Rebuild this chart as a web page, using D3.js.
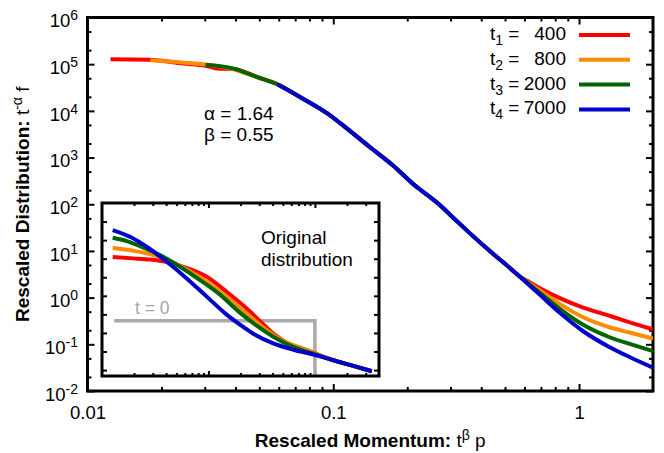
<!DOCTYPE html>
<html>
<head>
<meta charset="utf-8">
<script src="https://cdn.jsdelivr.net/npm/d3@7"></script>
<style>
  body { margin: 0; background: #fff; }
  text { font-family: "Liberation Sans", Arial, Helvetica, sans-serif; }
</style>
</head>
<body>
<svg id="chart" width="664" height="453"></svg>
<script>
// ---- Data -------------------------------------------------------------
const times = [400, 800, 2000, 7000];
const seriesColors = ["#ff0000", "#ff8c00", "#006400", "#0000cd"];

const xTickValues = [0.01, 0.1, 1];
const xTickLabels = ["0.01", "0.1", "1"];
const yTickExponents = [-2, -1, 0, 1, 2, 3, 4, 5, 6];

// Rescaled distribution t^-α f versus rescaled momentum t^β p
const mainX400 = [0.0124, 0.018, 0.0245, 0.0302, 0.0337, 0.0393, 0.0491, 0.0593, 0.0735, 0.0946, 0.107, 0.1416, 0.176, 0.212, 0.2655, 0.320, 0.361, 0.436, 0.526, 0.561, 0.634, 0.697, 0.840, 1.04, 1.34, 1.62, 2.0];
const mainY400 = [1.27e5, 1.24e5, 1.03e5, 9.3e4, 8.1e4, 7.9e4, 5.3e4, 3.72e4, 1.96e4, 8.8e3, 5.4e3, 1.64e3, 662, 267, 106, 42.4, 23.5, 9.7, 4.21, 3.13, 2.08, 1.57, 0.964, 0.611, 0.404, 0.292, 0.210];

const mainX800 = [0.018, 0.0245, 0.0302, 0.0393, 0.0491, 0.0593, 0.0735, 0.0946, 0.107, 0.1416, 0.176, 0.212, 0.2655, 0.320, 0.361, 0.436, 0.526, 0.561, 0.634, 0.697, 0.840, 1.04, 1.34, 1.62, 2.0];
const mainY800 = [1.21e5, 1.08e5, 9.8e4, 7.8e4, 5.2e4, 3.72e4, 1.96e4, 8.8e3, 5.4e3, 1.64e3, 662, 267, 106, 42.4, 23.5, 9.7, 4.21, 3.13, 1.96, 1.39, 0.718, 0.379, 0.229, 0.177, 0.133];

const mainX2000 = [0.0302, 0.0393, 0.0491, 0.0593, 0.0735, 0.0946, 0.107, 0.1416, 0.176, 0.212, 0.2655, 0.320, 0.361, 0.436, 0.526, 0.561, 0.634, 0.697, 0.840, 1.04, 1.34, 1.62, 2.0];
const mainY2000 = [9.7e4, 8.05e4, 5.3e4, 3.72e4, 1.96e4, 8.8e3, 5.4e3, 1.64e3, 662, 267, 106, 42.4, 23.5, 9.7, 4.21, 3.13, 1.87, 1.23, 0.561, 0.262, 0.140, 0.1007, 0.0713];

const mainX7000 = [0.0593, 0.0735, 0.0946, 0.107, 0.1416, 0.176, 0.212, 0.2655, 0.320, 0.361, 0.436, 0.526, 0.561, 0.634, 0.697, 0.840, 1.04, 1.34, 1.62, 2.0];
const mainY7000 = [3.66e4, 1.96e4, 8.8e3, 5.4e3, 1.64e3, 662, 267, 106, 42.4, 23.5, 9.7, 4.21, 3.13, 1.76, 1.12, 0.461, 0.1905, 0.0855, 0.0523, 0.0317];

// Original (unscaled) distribution for the inset
const insetX400 = [1.26e-3, 1.97e-3, 2.82e-3, 4.06e-3, 5.81e-3, 9.64e-3, 0.01482, 0.02285, 0.03048, 0.04064, 0.05433, 0.07244, 0.1023, 0.149, 0.2296, 0.342];
const insetY400 = [0.1222, 0.104, 0.0897, 0.0658, 0.0366, 0.0106, 1.64e-3, 2.09e-4, 4.32e-5, 9.14e-6, 2.99e-6, 1.61e-6, 7.62e-7, 3.40e-7, 1.67e-7, 8.69e-8];

const insetX800 = [1.26e-3, 1.97e-3, 2.82e-3, 4.06e-3, 6.25e-3, 9.64e-3, 0.01482, 0.02285, 0.03273, 0.04699, 0.07244, 0.1023, 0.149, 0.2296, 0.342];
const insetY800 = [0.374, 0.267, 0.1775, 0.0897, 0.0259, 5.69e-3, 8.83e-4, 1.12e-4, 1.93e-5, 4.62e-6, 1.57e-6, 7.44e-7, 3.40e-7, 1.67e-7, 8.69e-8];

const insetX2000 = [1.26e-3, 1.71e-3, 2.44e-3, 3.51e-3, 5.41e-3, 8.34e-3, 0.01283, 0.01977, 0.02838, 0.04064, 0.06266, 0.0966, 0.149, 0.2296, 0.342];
const insetY2000 = [1.34, 0.891, 0.398, 0.1567, 0.0366, 7.03e-3, 1.16e-3, 1.24e-4, 2.47e-5, 6.30e-6, 1.77e-6, 7.62e-7, 3.40e-7, 1.67e-7, 8.69e-8];

const insetX7000 = [1.26e-3, 1.83e-3, 2.63e-3, 4.06e-3, 6.25e-3, 9.64e-3, 0.01482, 0.01977, 0.02636, 0.04064, 0.06266, 0.0966, 0.149, 0.2296, 0.342];
const insetY7000 = [3.50, 1.52, 0.44, 0.0682, 8.69e-3, 9.06e-4, 9.68e-5, 2.80e-5, 9.14e-6, 2.71e-6, 1.25e-6, 6.90e-7, 3.40e-7, 1.67e-7, 8.69e-8];

// Initial (t = 0) step distribution
const initX = [1.30e-3, 0.1, 0.1];
const initY = [4.6e-5, 4.6e-5, 4.8e-8];

const mainXs = [mainX400, mainX800, mainX2000, mainX7000];
const mainYs = [mainY400, mainY800, mainY2000, mainY7000];
const insetXs = [insetX400, insetX800, insetX2000, insetX7000];
const insetYs = [insetY400, insetY800, insetY2000, insetY7000];

// ---- Layout -----------------------------------------------------------
const FONT = '"Liberation Sans", Arial, Helvetica, sans-serif';
const TEXT_SIZE = 19;
const TICK_SIZE = 18.5;
const svg = d3.select("#chart");
svg.append("rect").attr("width", 664).attr("height", 453).attr("fill", "#fff");

const M = { left: 87.5, right: 653, top: 17.5, bottom: 391 };
const x = d3.scaleLog().domain([0.01, 2]).range([M.left, M.right]);
const y = d3.scaleLog().domain([1e-2, 1e6]).range([M.bottom, M.top]);

function logMinor(lo, hi, mults) {
  const out = [];
  for (let e = Math.floor(Math.log10(lo)); e <= Math.ceil(Math.log10(hi)); e++) {
    mults.forEach(m => {
      const v = m * Math.pow(10, e);
      if (v > lo * 1.0001 && v < hi * 0.9999) out.push(v);
    });
  }
  return out;
}

function styleAxis(g) {
  g.select(".domain").remove();
  g.selectAll(".tick line").attr("stroke", "#000").attr("stroke-width", 2);
  g.attr("font-family", FONT).attr("font-size", TICK_SIZE);
  g.selectAll(".tick text").attr("fill", "#000");
}

function addAxis(axis, tx, ty) {
  const g = svg.append("g").attr("transform", `translate(${tx},${ty})`).call(axis);
  styleAxis(g);
  return g;
}

// Main axes: major and minor ticks on all four sides, pointing inward
const xMinor = logMinor(0.01, 2, [2, 3, 4, 5, 6, 7, 8, 9]);
const yMajor = yTickExponents.map(e => Math.pow(10, e));
const yMinor = logMinor(1e-2, 1e6, [2, 5]);

addAxis(d3.axisBottom(x).tickValues(xTickValues).tickSize(-7).tickPadding(14.5)
  .tickFormat((d, i) => xTickLabels[i]), 0, M.bottom);
addAxis(d3.axisBottom(x).tickValues(xMinor).tickSize(-4).tickFormat(""), 0, M.bottom);
addAxis(d3.axisTop(x).tickValues(xTickValues).tickSize(-7).tickFormat(""), 0, M.top);
addAxis(d3.axisTop(x).tickValues(xMinor).tickSize(-4).tickFormat(""), 0, M.top);

const yAxisG = addAxis(d3.axisLeft(y).tickValues(yMajor).tickSize(-7).tickPadding(9.5), M.left, 0);
addAxis(d3.axisLeft(y).tickValues(yMinor).tickSize(-4).tickFormat(""), M.left, 0);
addAxis(d3.axisRight(y).tickValues(yMajor).tickSize(-7).tickFormat(""), M.right, 0);
addAxis(d3.axisRight(y).tickValues(yMinor).tickSize(-4).tickFormat(""), M.right, 0);

// Power-of-ten labels with superscript exponents
yAxisG.selectAll(".tick text").each(function (d, i) {
  const t = d3.select(this).text(null).attr("dy", "0.5em");
  t.append("tspan").text("10");
  t.append("tspan").attr("font-size", 14).attr("dy", -7).text(String(yTickExponents[i]));
});

// Frame
svg.append("rect")
  .attr("x", M.left).attr("y", M.top)
  .attr("width", M.right - M.left).attr("height", M.bottom - M.top)
  .attr("fill", "none").attr("stroke", "#000").attr("stroke-width", 3);

// Clip for the main curves
svg.append("clipPath").attr("id", "mainClip").append("rect")
  .attr("x", M.left).attr("y", M.top)
  .attr("width", M.right - M.left).attr("height", M.bottom - M.top);

const mainLine = d3.line().x(d => x(d[0])).y(d => y(d[1])).curve(d3.curveMonotoneX);
const mainCurves = svg.append("g").attr("clip-path", "url(#mainClip)");
times.forEach((t, i) => {
  const pts = mainXs[i].map((v, k) => [v, mainYs[i][k]]);
  mainCurves.append("path").datum(pts)
    .attr("d", mainLine)
    .attr("fill", "none")
    .attr("stroke", seriesColors[i])
    .attr("stroke-width", 4)
    .attr("stroke-linejoin", "round");
});

// Axis titles
svg.append("text")
  .attr("x", (M.left + M.right) / 2).attr("y", 447)
  .attr("text-anchor", "middle").attr("font-size", TEXT_SIZE).attr("fill", "#000")
  .call(t => {
    t.append("tspan").attr("font-weight", "bold").text("Rescaled Momentum:");
    t.append("tspan").text(" t");
    t.append("tspan").attr("font-size", 14).attr("dy", -7).text("β");
    t.append("tspan").attr("dy", 7).text(" p");
  });

svg.append("text")
  .attr("transform", `translate(29,${(M.top + M.bottom) / 2}) rotate(-90)`)
  .attr("text-anchor", "middle").attr("font-size", TEXT_SIZE).attr("fill", "#000")
  .call(t => {
    t.append("tspan").attr("font-weight", "bold").text("Rescaled Distribution:");
    t.append("tspan").text(" t");
    t.append("tspan").attr("font-size", 14).attr("dy", -7).text("-α");
    t.append("tspan").attr("dy", 7).text(" f");
  });

// Exponent annotation
svg.append("text").attr("x", 204).attr("y", 120).attr("font-size", TEXT_SIZE).text("α = 1.64");
svg.append("text").attr("x", 204).attr("y", 141).attr("font-size", TEXT_SIZE).text("β = 0.55");

// Legend
const legend = svg.append("g");
times.forEach((t, i) => {
  const ly = 35 + i * 24.8;
  const lab = legend.append("text").attr("x", 490).attr("y", ly + 5).attr("font-size", TEXT_SIZE);
  lab.append("tspan").text("t");
  lab.append("tspan").attr("font-size", 14).attr("dy", 5).text(String(i + 1));
  lab.append("tspan").attr("dy", -5).text(" =");
  legend.append("text").attr("x", 566).attr("y", ly + 5).attr("font-size", TEXT_SIZE)
    .attr("text-anchor", "end").text(String(t));
  legend.append("line")
    .attr("x1", 579).attr("x2", 630).attr("y1", ly).attr("y2", ly)
    .attr("stroke", seriesColors[i]).attr("stroke-width", 4);
});

// ---- Inset: original distribution ------------------------------------
const I = { left: 102, right: 379, top: 203, bottom: 376 };
const ix = d3.scaleLog().domain([1e-3, 0.4]).range([I.left, I.right]);
const iy = d3.scaleLog().domain([4.8e-8, 100]).range([I.bottom, I.top]);

svg.append("rect")
  .attr("x", I.left).attr("y", I.top)
  .attr("width", I.right - I.left).attr("height", I.bottom - I.top)
  .attr("fill", "#fff");

const ixMajor = [0.01, 0.1];
const ixMinor = logMinor(1e-3, 0.4, [2, 3, 4, 5, 6, 7, 8, 9]);
const iyMajor = d3.range(-7, 2).map(e => Math.pow(10, e));

addAxis(d3.axisBottom(ix).tickValues(ixMajor).tickSize(-5).tickFormat(""), 0, I.bottom);
addAxis(d3.axisBottom(ix).tickValues(ixMinor).tickSize(-3).tickFormat(""), 0, I.bottom);
addAxis(d3.axisTop(ix).tickValues(ixMajor).tickSize(-5).tickFormat(""), 0, I.top);
addAxis(d3.axisTop(ix).tickValues(ixMinor).tickSize(-3).tickFormat(""), 0, I.top);
addAxis(d3.axisLeft(iy).tickValues(iyMajor).tickSize(-5).tickFormat(""), I.left, 0);
addAxis(d3.axisRight(iy).tickValues(iyMajor).tickSize(-5).tickFormat(""), I.right, 0);

svg.append("clipPath").attr("id", "insetClip").append("rect")
  .attr("x", I.left).attr("y", I.top)
  .attr("width", I.right - I.left).attr("height", I.bottom - I.top);

const insetG = svg.append("g").attr("clip-path", "url(#insetClip)");
const insetLine = d3.line().x(d => ix(d[0])).y(d => iy(d[1])).curve(d3.curveMonotoneX);

// t = 0 step
insetG.append("path")
  .datum(initX.map((v, k) => [v, initY[k]]))
  .attr("d", d3.line().x(d => ix(d[0])).y(d => iy(d[1])))
  .attr("fill", "none").attr("stroke", "#aaaaaa").attr("stroke-width", 3.5);

times.forEach((t, i) => {
  const pts = insetXs[i].map((v, k) => [v, insetYs[i][k]]);
  insetG.append("path").datum(pts)
    .attr("d", insetLine)
    .attr("fill", "none")
    .attr("stroke", seriesColors[i])
    .attr("stroke-width", 4)
    .attr("stroke-linejoin", "round");
});

svg.append("rect")
  .attr("x", I.left).attr("y", I.top)
  .attr("width", I.right - I.left).attr("height", I.bottom - I.top)
  .attr("fill", "none").attr("stroke", "#000").attr("stroke-width", 3);

svg.append("text").attr("x", 135).attr("y", 314).attr("font-size", 17.5)
  .attr("fill", "#a6a6a6").text("t = 0");
svg.append("text").attr("x", 261).attr("y", 244).attr("font-size", TEXT_SIZE).text("Original");
svg.append("text").attr("x", 261).attr("y", 265.5).attr("font-size", TEXT_SIZE).text("distribution");
</script>
</body>
</html>
